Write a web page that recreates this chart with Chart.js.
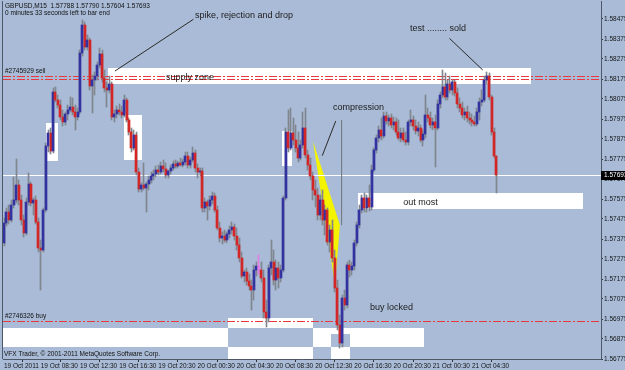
<!DOCTYPE html>
<html><head><meta charset="utf-8">
<script src="https://cdn.jsdelivr.net/npm/chart.js@4/dist/chart.umd.min.js"></script>
<style>html,body{margin:0;padding:0;background:#a9bbd6;overflow:hidden}#wrap{width:625px;height:370px}</style>
</head><body><div id="wrap"><canvas id="c" width="625" height="370"></canvas></div>
<script>
// ---- data (GBPUSD M15, 19-21 Oct 2011) ----
const opens = [1.57355,1.57455,1.5751,1.5747,1.57545,1.5757,1.57645,1.5757,1.5747,1.57405,
1.5756,1.5765,1.57555,1.5757,1.5746,1.5733,1.5732,1.5752,1.5784,1.57905,
1.57815,1.5811,1.5807,1.58045,1.57985,1.5796,1.58,1.5802,1.58035,1.5801,
1.57985,1.5801,1.58305,1.58445,1.58335,1.5837,1.5814,1.5817,1.5819,1.58245,
1.583,1.5818,1.5813,1.5812,1.5815,1.57985,1.58,1.5802,1.5801,1.57995,
1.5807,1.5797,1.5791,1.5783,1.57895,1.5771,1.57625,1.57645,1.5763,1.5765,
1.5767,1.5769,1.577,1.5772,1.5771,1.5774,1.57725,1.57695,1.57715,1.5773,
1.5775,1.5774,1.57755,1.57745,1.5776,1.5779,1.57745,1.5777,1.57805,1.5773,
1.5771,1.57715,1.5753,1.5756,1.5754,1.5757,1.5759,1.5752,1.5743,1.5738,
1.5739,1.5737,1.574,1.5742,1.57435,1.5739,1.57345,1.5728,1.5719,1.5721,
1.57165,1.5714,1.5712,1.5722,1.5724,1.5722,1.5718,1.5701,1.5698,1.5723,
1.5726,1.5717,1.5723,1.5718,1.5722,1.5758,1.5791,1.5783,1.57905,1.5787,
1.5783,1.5778,1.57845,1.5793,1.57795,1.57745,1.5769,1.5762,1.57595,1.57495,
1.5757,1.5747,1.5752,1.5736,1.5742,1.5728,1.5713,1.56945,1.56855,1.5708,
1.57045,1.57245,1.5722,1.5724,1.57355,1.57445,1.5752,1.5758,1.5753,1.5758,
1.57535,1.5772,1.5782,1.5788,1.5792,1.5789,1.5799,1.57965,1.5798,1.57945,
1.5796,1.5791,1.5788,1.57905,1.5787,1.5786,1.5796,1.5797,1.5794,1.57915,
1.5793,1.5787,1.579,1.57995,1.5798,1.57945,1.5796,1.5793,1.5805,1.58095,
1.58135,1.58085,1.5815,1.5812,1.5816,1.58105,1.5805,1.5803,1.57995,1.5801,
1.5798,1.5797,1.5796,1.5795,1.5801,1.5806,1.5807,1.5817,1.5819,1.58085,
1.5791,1.57788];
const highs = [1.5748,1.5753,1.57545,1.5757,1.57685,1.57775,1.5767,1.57595,1.57495,1.5758,
1.57705,1.5766,1.5758,1.5759,1.5748,1.5737,1.5753,1.57855,1.5792,1.5793,
1.5813,1.58135,1.58095,1.5807,1.5802,1.5801,1.58045,1.58085,1.5808,1.58045,
1.5803,1.5832,1.5847,1.5846,1.58395,1.5838,1.58195,1.5821,1.5826,1.5833,
1.5832,1.5822,1.5816,1.5819,1.5816,1.5802,1.5804,1.5805,1.5804,1.58095,
1.5808,1.5798,1.5793,1.5792,1.5791,1.5773,1.57655,1.57755,1.5766,1.5769,
1.5771,1.5772,1.5774,1.57745,1.5776,1.5777,1.57755,1.5772,1.57745,1.57765,
1.5777,1.57765,1.5778,1.57775,1.5781,1.5781,1.57785,1.57835,1.5782,1.5775,
1.5773,1.5773,1.5758,1.5757,1.5759,1.5761,1.57605,1.5754,1.5746,1.5741,
1.5742,1.5741,1.5744,1.5746,1.5745,1.5743,1.5738,1.5731,1.5722,1.5723,
1.572,1.5717,1.57245,1.5726,1.57295,1.5726,1.5722,1.5707,1.57245,1.5737,
1.5732,1.5727,1.5726,1.57245,1.5759,1.5793,1.5802,1.5803,1.5798,1.57945,
1.5791,1.5787,1.5801,1.5803,1.5782,1.5778,1.5771,1.5767,1.5763,1.57595,
1.5762,1.57545,1.5753,1.57445,1.5747,1.5732,1.5717,1.56995,1.57095,1.5712,
1.5726,1.5727,1.5726,1.5737,1.5746,1.57545,1.57595,1.57605,1.57595,1.57645,
1.57745,1.5783,1.57895,1.5794,1.5798,1.5801,1.5801,1.57995,1.58,1.57985,
1.5798,1.5797,1.5793,1.5793,1.5791,1.5797,1.5802,1.5799,1.5797,1.5796,
1.57945,1.5792,1.58095,1.5803,1.5801,1.5798,1.57995,1.5807,1.5811,1.5822,
1.58205,1.5817,1.5819,1.5817,1.5817,1.5813,1.5808,1.5806,1.5803,1.5804,
1.5801,1.58,1.5799,1.5803,1.5808,1.5812,1.5819,1.5821,1.58205,1.58095,
1.5793,1.5779];
const lows = [1.5734,1.5744,1.5745,1.5746,1.5753,1.57555,1.57545,1.57445,1.57385,1.57395,
1.57545,1.5754,1.57495,1.5745,1.5731,1.5712,1.5731,1.5751,1.5781,1.578,
1.57805,1.5806,1.5803,1.5797,1.5794,1.57945,1.5797,1.5801,1.57995,1.5792,
1.5797,1.58,1.5829,1.5832,1.5832,1.5812,1.58005,1.58095,1.5817,1.5823,
1.5816,1.5811,1.58035,1.58105,1.5797,1.5796,1.5798,1.57995,1.5798,1.57985,
1.5796,1.57895,1.5781,1.5782,1.57695,1.5761,1.5761,1.5762,1.5751,1.5762,
1.57655,1.5767,1.57685,1.57695,1.577,1.5771,1.5768,1.5768,1.577,1.5772,
1.5773,1.5773,1.5774,1.57735,1.57745,1.5773,1.5773,1.5776,1.5771,1.5768,
1.5769,1.5751,1.5751,1.5747,1.5752,1.5755,1.5751,1.5742,1.5736,1.5735,
1.5736,1.57355,1.5738,1.574,1.5737,1.5732,1.5726,1.5718,1.5716,1.57145,
1.5712,1.5702,1.5707,1.5719,1.572,1.5716,1.5698,1.56935,1.5696,1.57195,
1.57145,1.5712,1.5713,1.5716,1.5721,1.5757,1.5781,1.5782,1.57845,1.5781,
1.5776,1.5777,1.5783,1.5778,1.5772,1.5767,1.5757,1.57535,1.5747,1.5747,
1.57445,1.57395,1.57345,1.5731,1.5726,1.5711,1.5692,1.5683,1.56835,1.5702,
1.5703,1.57185,1.57195,1.5722,1.5734,1.5743,1.57505,1.5751,1.5751,1.57515,
1.5752,1.5771,1.57805,1.5786,1.5787,1.5788,1.5795,1.5794,1.5793,1.5792,
1.57895,1.5787,1.5786,1.5786,1.57845,1.57845,1.5794,1.5792,1.579,1.5789,
1.5786,1.5784,1.5788,1.5796,1.5793,1.5792,1.57735,1.5792,1.5803,1.5808,
1.5807,1.5807,1.58105,1.58095,1.5809,1.5803,1.5801,1.5798,1.5797,1.5796,
1.5795,1.5794,1.5794,1.5794,1.5797,1.5804,1.5806,1.5815,1.5807,1.57895,
1.5778,1.57604];
const closes = [1.57455,1.5751,1.5747,1.57545,1.5757,1.57645,1.5757,1.5747,1.57405,1.5756,
1.5765,1.57555,1.5757,1.5746,1.5733,1.5732,1.5752,1.5784,1.57905,1.57815,
1.5811,1.5807,1.58045,1.57985,1.5796,1.58,1.5802,1.58035,1.5801,1.57985,
1.5801,1.58305,1.58445,1.58335,1.5837,1.5814,1.5817,1.5819,1.58245,1.583,
1.5818,1.5813,1.5812,1.5815,1.57985,1.58,1.5802,1.5801,1.57995,1.5807,
1.5797,1.5791,1.5783,1.57895,1.5771,1.57625,1.57645,1.5763,1.5765,1.5767,
1.5769,1.577,1.5772,1.5771,1.5774,1.57725,1.57695,1.57715,1.5773,1.5775,
1.5774,1.57755,1.57745,1.5776,1.5779,1.57745,1.5777,1.57805,1.5773,1.5771,
1.57715,1.5753,1.5756,1.5754,1.5757,1.5759,1.5752,1.5743,1.5738,1.5739,
1.5737,1.574,1.5742,1.57435,1.5739,1.57345,1.5728,1.5719,1.5721,1.57165,
1.5714,1.5712,1.5722,1.5724,1.5722,1.5718,1.5701,1.5698,1.5723,1.5726,
1.5717,1.5723,1.5718,1.5722,1.5758,1.5791,1.5783,1.57905,1.5787,1.5783,
1.5778,1.57845,1.5793,1.57795,1.57745,1.5769,1.5762,1.57595,1.57495,1.5757,
1.5747,1.5752,1.5736,1.5742,1.5728,1.5713,1.56945,1.56855,1.5708,1.57045,
1.57245,1.5722,1.5724,1.57355,1.57445,1.5752,1.5758,1.5753,1.5758,1.57535,
1.5772,1.5782,1.5788,1.5792,1.5789,1.5799,1.57965,1.5798,1.57945,1.5796,
1.5791,1.5788,1.57905,1.5787,1.5786,1.5796,1.5797,1.5794,1.57915,1.5793,
1.5787,1.579,1.57995,1.5798,1.57945,1.5796,1.5793,1.5805,1.58095,1.58135,
1.58085,1.5815,1.5812,1.5816,1.58105,1.5805,1.5803,1.57995,1.5801,1.5798,
1.5797,1.5796,1.5795,1.5801,1.5806,1.5807,1.5817,1.5819,1.58085,1.5791,
1.57788,1.57693];
const markedBars = [104];
const xTickBars = [0,15,31,47,63,79,95,111,127,143,159,175,191];
const xTickLabels = ['19 Oct 2011','19 Oct 08:30','19 Oct 12:30','19 Oct 16:30','19 Oct 20:30','20 Oct 00:30','20 Oct 04:30','20 Oct 08:30','20 Oct 12:30','20 Oct 16:30','20 Oct 20:30','21 Oct 00:30','21 Oct 04:30'];
const yTickValues = [1.58475,1.58375,1.58275,1.58175,1.58075,1.57975,1.57875,1.57775,1.57675,1.57575,1.57475,1.57375,1.57275,1.57175,1.57075,1.56975,1.56875,1.56775];
const bidPrice = 1.57693;
const sellLevels = [1.58191,1.58176];
const buyLevel = 1.569675;

// ---- annotation objects (bar index / price units) ----
const whiteRects = [
  [42.4,215.1,1.5823,1.5815],[17.0,22.2,1.579565,1.57765],[49.1,56.3,1.579935,1.5777],
  [113.3,117.4,1.57915,1.577415],[144.6,236.3,1.576065,1.575235],
  [-0.5,91.4,1.5693,1.56835],[91.4,126.1,1.5698,1.5693],[91.4,126.1,1.56835,1.56775],
  [126.1,133.5,1.5693,1.56835],[133.5,141.2,1.5693,1.569025],[141.2,171.4,1.5693,1.56835],
  [133.5,141.2,1.56835,1.56775]
];
const yellowTri = [[126.1,1.57865],[137.1,1.57445],[135.1,1.57145]];
const noteLines = [
  {a:[77.3,1.584735], b:[45.3,1.58215], c:'#2a2a2a'},
  {a:[135.4,1.57965], b:[129.9,1.577915], c:'#2a2a2a'},
  {a:[137.8,1.5797], b:[137.8,1.57445], c:'#6f747c'},
  {a:[181.8,1.583785], b:[195.4,1.5822], c:'#2a2a2a'}
];
const notes = [
  {t:'spike, rejection and drop', i:77.96, p:1.5849},
  {t:'supply zone', i:66.1, p:1.581835},
  {t:'compression', i:134.3, p:1.580335},
  {t:'test ........ sold', i:165.7, p:1.584285},
  {t:'out most', i:163, p:1.575575},
  {t:'buy locked', i:149.4, p:1.570335}
];
const orderLabels = [{t:'#2745929 sell', i:0.4, p:1.582125},{t:'#2746326 buy', i:0.4, p:1.5699}];

const SMALL = '6.5px "Liberation Sans", Arial, sans-serif';
const NOTE = '9px "Liberation Sans", Arial, sans-serif';
const UP = '#3232a0', DOWN = '#d42626', WICK = '#80858e', MARK = '#e07ee6';

const idx = opens.map((_, i) => i);
const wickData = idx.map(i => ({x: i, y: [lows[i], highs[i]]}));
const bodyData = idx.map(i => ({x: i, y: opens[i] === closes[i] ? [opens[i] - 0.00002, closes[i] + 0.00002] : [opens[i], closes[i]]}));
const bodyColors = idx.map(i => markedBars.includes(i) ? MARK : (closes[i] >= opens[i] ? UP : DOWN));
const wickColors = idx.map(i => markedBars.includes(i) ? MARK : WICK);

const annot = {
  id: 'annot',
  beforeDatasetsDraw(chart) {
    const {ctx, chartArea: a, scales: {x, y}} = chart;
    const X = v => x.getPixelForValue(v), Y = v => y.getPixelForValue(v);
    // snap bar elements (positioned by the scales) to the pixel grid
    chart.data.datasets.forEach((ds, k) => {
      chart.getDatasetMeta(k).data.forEach(el => {
        el.x = ds.barThickness === 1 ? Math.floor(el.x) + 0.5 : Math.round(el.x);
        el.y = Math.round(el.y); el.base = Math.round(el.base);
      });
    });
    ctx.save();
    ctx.beginPath(); ctx.rect(a.left, a.top, a.right - a.left, a.bottom - a.top); ctx.clip();
    ctx.fillStyle = '#ffffff';
    whiteRects.forEach(r => {
      const x0 = Math.round(X(r[0])), x1 = Math.round(X(r[1])), y0 = Math.round(Y(r[2])), y1 = Math.round(Y(r[3]));
      ctx.fillRect(x0, y0, x1 - x0, y1 - y0);
    });
    ctx.fillStyle = '#f4f400';
    ctx.beginPath();
    yellowTri.forEach((pt, k) => k ? ctx.lineTo(X(pt[0]), Y(pt[1])) : ctx.moveTo(X(pt[0]), Y(pt[1])));
    ctx.closePath(); ctx.fill();
    ctx.lineWidth = 1;
    ctx.setLineDash([8, 2, 2, 2]);
    ctx.strokeStyle = '#e8383c';
    [...sellLevels, buyLevel].forEach(p => {
      const yy = Math.round(Y(p)) + 0.5;
      ctx.beginPath(); ctx.moveTo(a.left, yy); ctx.lineTo(a.right, yy); ctx.stroke();
    });
    ctx.setLineDash([]);
    ctx.strokeStyle = '#ffffff';
    const by = Math.round(Y(bidPrice)) + 0.5;
    ctx.beginPath(); ctx.moveTo(a.left, by); ctx.lineTo(a.right, by); ctx.stroke();
    noteLines.forEach(l => {
      ctx.strokeStyle = l.c;
      ctx.beginPath(); ctx.moveTo(X(l.a[0]), Y(l.a[1])); ctx.lineTo(X(l.b[0]), Y(l.b[1])); ctx.stroke();
    });
    ctx.restore();
  },
  afterDatasetsDraw(chart) {
    const {ctx, chartArea: a, scales: {x, y}} = chart;
    const X = v => x.getPixelForValue(v), Y = v => y.getPixelForValue(v);
    ctx.save();
    ctx.textBaseline = 'middle'; ctx.textAlign = 'left';
    ctx.fillStyle = '#202020'; ctx.font = NOTE;
    notes.forEach(n => ctx.fillText(n.t, X(n.i), Y(n.p)));
    ctx.fillStyle = '#111'; ctx.font = SMALL;
    orderLabels.forEach(n => ctx.fillText(n.t, X(n.i), Y(n.p)));
    ctx.fillText('GBPUSD,M15  1.57788 1.57790 1.57604 1.57693', a.left + 2, 6);
    ctx.fillText('0 minutes 33 seconds left to bar end', a.left + 2, 13);
    ctx.fillText('VFX Trader, \u00a9 2001-2011 MetaQuotes Software Corp.', a.left + 1, 354);
    ctx.strokeStyle = '#4d5866'; ctx.lineWidth = 1;
    ctx.beginPath(); ctx.moveTo(a.left - 0.5, a.top); ctx.lineTo(a.left - 0.5, a.bottom); ctx.stroke();
    const by = Math.round(Y(bidPrice));
    ctx.fillStyle = '#000';
    ctx.fillRect(a.right, by - 4, 625 - a.right, 9);
    ctx.fillStyle = '#fff';
    ctx.fillText(bidPrice.toFixed(5), a.right + 3, by + 0.5);
    ctx.restore();
  }
};

const fixScale = (w, h) => s => {
  if (w) s.width = w; if (h) s.height = h;
  s.paddingLeft = 0; s.paddingRight = 0; s.paddingTop = 0; s.paddingBottom = 0;
};

new Chart(document.getElementById('c'), {
  type: 'bar',
  data: {datasets: [
    {data: wickData, backgroundColor: wickColors, barThickness: 1, grouped: false, borderWidth: 0, order: 2},
    {data: bodyData, backgroundColor: bodyColors, barThickness: 2, grouped: false, borderWidth: 0, order: 1}
  ]},
  options: {
    responsive: false, animation: false, devicePixelRatio: 1,
    layout: {padding: {left: 3, top: 1, right: 0, bottom: 0}, autoPadding: false},
    plugins: {legend: {display: false}, tooltip: {enabled: false}},
    scales: {
      x: {
        type: 'linear', min: -0.41, max: 243.67, offset: false,
        afterBuildTicks: s => { s.ticks = xTickBars.map(v => ({value: v})); },
        afterFit: fixScale(0, 11),
        ticks: {autoSkip: false, maxRotation: 0, minRotation: 0, align: 'start', padding: 0, color: '#151515',
          font: {family: '"Liberation Sans", Arial, sans-serif', size: 6.5},
          callback: (v, k) => xTickLabels[k]},
        grid: {drawOnChartArea: false, drawTicks: true, tickLength: 3, color: '#333'},
        border: {display: true, color: '#4d5866'}
      },
      y: {
        type: 'linear', position: 'right', min: 1.56775, max: 1.58565,
        afterBuildTicks: s => { s.ticks = yTickValues.map(v => ({value: v})); },
        afterFit: fixScale(24, 0),
        ticks: {autoSkip: false, padding: 1, color: '#151515',
          font: {family: '"Liberation Sans", Arial, sans-serif', size: 6.5},
          callback: v => Number(v).toFixed(5)},
        grid: {drawOnChartArea: false, drawTicks: true, tickLength: 2, color: '#333'},
        border: {display: true, color: '#4d5866'}
      }
    }
  },
  plugins: [annot]
});
</script>
</body></html>
